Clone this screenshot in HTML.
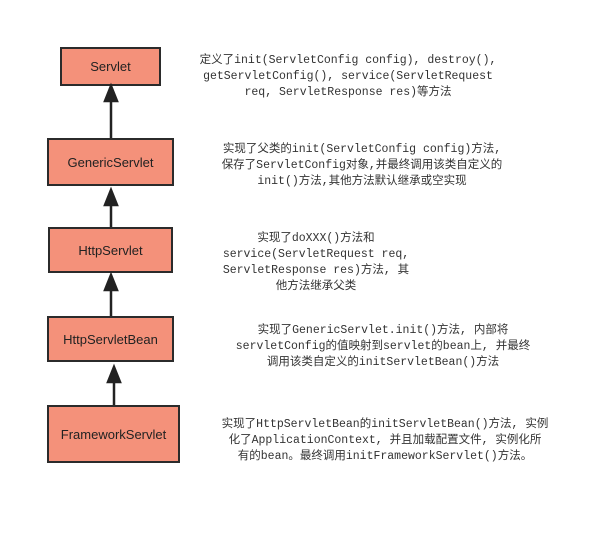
<!DOCTYPE html>
<html><head><meta charset="utf-8"><style>
body{margin:0;width:610px;height:535px;background:#fff;position:relative;overflow:hidden}
.b{position:absolute;background:#f4917a;border:2px solid #2b2b2b;box-sizing:border-box;display:flex;align-items:center;justify-content:center;font-family:"Liberation Sans",sans-serif;font-size:13px;color:#222}
.t{position:absolute;text-align:center;font-family:"Liberation Mono","Noto Sans CJK SC",monospace;font-size:11.5px;line-height:16px;color:#333;white-space:nowrap}
</style></head><body>
<div class="b" style="left:60px;top:47px;width:101px;height:39px">Servlet</div>
<div class="b" style="left:47px;top:138px;width:127px;height:48px">GenericServlet</div>
<div class="b" style="left:48px;top:227px;width:125px;height:46px">HttpServlet</div>
<div class="b" style="left:47px;top:316px;width:127px;height:46px">HttpServletBean</div>
<div class="b" style="left:47px;top:405px;width:133px;height:58px">FrameworkServlet</div>
<svg width="610" height="535" style="position:absolute;left:0;top:0">
<g stroke="#222" stroke-width="2.5" fill="#222">
<line x1="111" y1="138" x2="111" y2="98"/><polygon points="111,86 105,101 117,101"/>
<line x1="111" y1="227" x2="111" y2="202"/><polygon points="111,190 105,205 117,205"/>
<line x1="111" y1="316" x2="111" y2="288"/><polygon points="111,275 105,290 117,290"/>
<line x1="114" y1="405" x2="114" y2="380"/><polygon points="114,367 108,382 120,382"/>
</g></svg>
<div class="t" style="left:348px;top:53px;transform:translateX(-50%)">定义了init(ServletConfig config), destroy(),<br>getServletConfig(), service(ServletRequest<br>req, ServletResponse res)等方法</div>
<div class="t" style="left:362px;top:142px;transform:translateX(-50%)">实现了父类的init(ServletConfig config)方法,<br>保存了ServletConfig对象,并最终调用该类自定义的<br>init()方法,其他方法默认继承或空实现</div>
<div class="t" style="left:316px;top:231px;transform:translateX(-50%)">实现了doXXX()方法和<br>service(ServletRequest req,<br>ServletResponse res)方法, 其<br>他方法继承父类</div>
<div class="t" style="left:383px;top:323px;transform:translateX(-50%)">实现了GenericServlet.init()方法, 内部将<br>servletConfig的值映射到servlet的bean上, 并最终<br>调用该类自定义的initServletBean()方法</div>
<div class="t" style="left:385px;top:417px;transform:translateX(-50%)">实现了HttpServletBean的initServletBean()方法, 实例<br>化了ApplicationContext, 并且加载配置文件, 实例化所<br>有的bean。最终调用initFrameworkServlet()方法。</div>
</body></html>
